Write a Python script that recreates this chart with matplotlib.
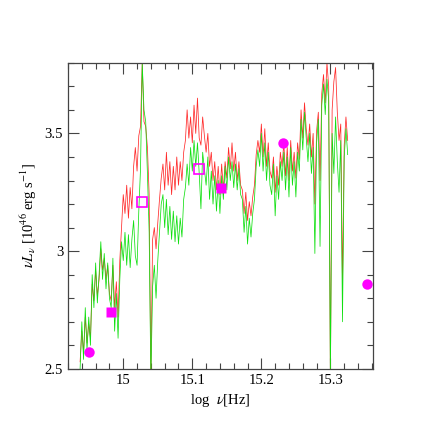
import numpy as np
import matplotlib.pyplot as plt
from matplotlib.ticker import MultipleLocator

plt.rcParams['font.family'] = ['Liberation Serif', 'DejaVu Serif']
plt.rcParams['mathtext.fontset'] = 'stix'

# spectrum sampling (log nu grid)
nu_start = 14.9375
nu_step = 0.0025

# green spectrum (log nu L_nu, 1e46 erg/s)
green = [2.50, 2.70, 2.54, 2.76, 2.58, 2.72, 2.60, 2.90, 2.76, 2.95,
         2.78, 2.90, 3.04, 2.88, 2.99, 2.84, 2.95, 2.80, 2.76, 2.97,
         2.66, 2.82, 2.63, 2.88, 3.04, 2.96, 3.08, 2.94, 3.07, 2.93,
         3.05, 3.13, 2.98, 2.94, 3.17, 3.35, 3.80, 3.60, 3.55, 3.33,
         3.08, 2.45, 2.85, 2.94, 2.80, 2.96, 3.08, 3.20, 3.24, 3.10,
         3.22, 3.07, 3.19, 3.05, 3.17, 3.04, 3.15, 3.03, 3.14, 3.06,
         3.22, 3.27, 3.37, 3.28, 3.44, 3.34, 3.47, 3.36, 3.46, 3.33,
         3.18, 3.42, 3.35, 3.28, 3.40, 3.22, 3.34, 3.20, 3.32, 3.17,
         3.30, 3.16, 3.32, 3.22, 3.36, 3.26, 3.40, 3.30, 3.38, 3.27,
         3.37, 3.26, 3.35, 3.24, 3.22, 3.08, 3.19, 3.03, 3.14, 3.06,
         3.16, 3.22, 3.36, 3.43, 3.36, 3.50, 3.34, 3.46, 3.30, 3.42,
         3.28, 3.24, 3.37, 3.15, 3.32, 3.22, 3.38, 3.30, 3.42, 3.26,
         3.40, 3.23, 3.44, 3.28, 3.38, 3.23, 3.42, 3.34, 3.56, 3.43,
         3.59, 3.48, 3.38, 3.50, 3.33, 3.44, 2.99, 3.46, 3.56, 3.02,
         3.62, 3.71, 3.58, 3.73, 3.64, 2.45, 3.50, 3.33, 3.57, 3.38,
         3.25, 3.47, 2.70, 3.40, 3.52, 3.41]

# red spectrum
red = [2.53, 2.66, 2.57, 2.72, 2.61, 2.69, 2.63, 2.86, 2.79, 2.92,
       2.81, 2.88, 3.01, 2.92, 2.97, 2.88, 2.94, 2.82, 2.79, 2.94,
       2.76, 2.87, 2.72, 2.96, 3.10, 3.24, 3.16, 3.28, 3.14, 3.27,
       3.18, 3.36, 3.44, 3.34, 3.49, 3.53, 3.80, 3.55, 3.53, 3.44,
       3.24, 2.45, 3.05, 3.10, 3.01, 3.12, 3.22, 3.31, 3.37, 3.26,
       3.42, 3.28, 3.38, 3.24, 3.36, 3.26, 3.40, 3.28, 3.38, 3.30,
       3.42, 3.47, 3.60, 3.48, 3.57, 3.46, 3.62, 3.50, 3.65, 3.48,
       3.45, 3.57, 3.49, 3.42, 3.50, 3.36, 3.42, 3.30, 3.38, 3.26,
       3.36, 3.24, 3.37, 3.26, 3.38, 3.31, 3.44, 3.35, 3.46, 3.34,
       3.42, 3.30, 3.38, 3.28, 3.26, 3.16, 3.25, 3.13, 3.21, 3.15,
       3.23, 3.28, 3.41, 3.47, 3.42, 3.54, 3.40, 3.52, 3.36, 3.46,
       3.34, 3.31, 3.40, 3.25, 3.36, 3.28, 3.42, 3.36, 3.46, 3.32,
       3.44, 3.30, 3.47, 3.34, 3.42, 3.31, 3.46, 3.39, 3.60, 3.48,
       3.63, 3.52, 3.45, 3.54, 3.40, 3.50, 3.20, 3.51, 3.59, 3.30,
       3.67, 3.75, 3.63, 3.80, 3.70, 2.45, 3.60, 3.72, 3.78, 3.59,
       3.47, 3.54, 2.86, 3.45, 3.57, 3.47]

log_nu = nu_start + nu_step * np.arange(len(green))

# photometric points
circ_x = [14.951, 15.232, 15.353]
circ_y = [2.57, 3.46, 2.86]
sq_x = [14.982, 15.141]
sq_y = [2.74, 3.27]
open_x = [15.027, 15.110]
open_y = [3.21, 3.35]

fig = plt.figure(figsize=(4.36, 4.36), dpi=100)
ax = fig.add_axes([0.156, 0.154, 0.700, 0.702])

ax.plot(log_nu, red, color='#ff2a2a', lw=0.55)
ax.plot(log_nu, green, color='#11e011', lw=0.55)

ax.plot(circ_x, circ_y, 'o', color='magenta', ms=7.5, mec='none')
ax.plot(sq_x, sq_y, 's', color='magenta', ms=7, mec='none')
ax.plot(open_x, open_y, 's', mfc='none', mec='magenta', ms=7.5, mew=1.2)

ax.set_xlim(14.92, 15.362)
ax.set_ylim(2.5, 3.8)
ax.xaxis.set_major_locator(MultipleLocator(0.1))
ax.xaxis.set_minor_locator(MultipleLocator(0.02))
ax.yaxis.set_major_locator(MultipleLocator(0.5))
ax.yaxis.set_minor_locator(MultipleLocator(0.1))
ax.set_xticks([15, 15.1, 15.2, 15.3], ['15', '15.1', '15.2', '15.3'])
ax.set_yticks([2.5, 3, 3.5], ['2.5', '3', '3.5'])
ax.tick_params(which='both', direction='in', top=True, right=True,
               color='#444444', labelsize=10.5)
ax.tick_params(which='major', length=8, width=0.8)
ax.tick_params(which='minor', length=4, width=0.8)
for s in ax.spines.values():
    s.set_color('#444444')
    s.set_linewidth(0.9)

ax.set_xlabel(r'log  $\nu$[Hz]', fontsize=10.5)
ax.set_ylabel(r'$\nu L_\nu$ [10$^{46}$ erg s$^{-1}$]', fontsize=10.5)

fig.savefig('out.png', dpi=100)
